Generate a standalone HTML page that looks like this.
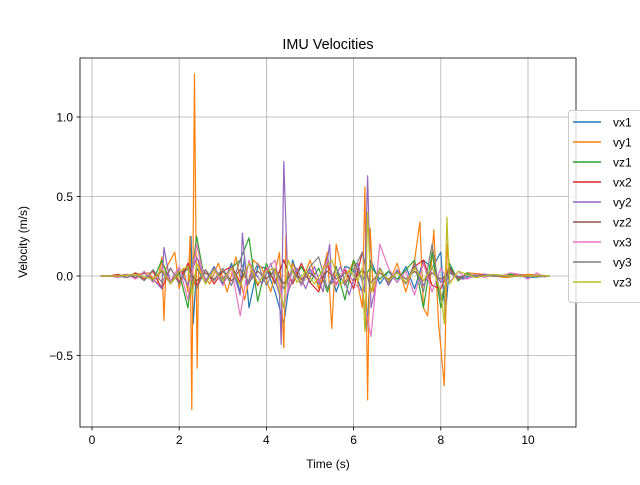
<!DOCTYPE html>
<html><head><meta charset="utf-8"><style>
body{margin:0;background:#fff;font-family:"Liberation Sans",sans-serif}
svg text{font-family:"Liberation Sans",sans-serif;fill:#000}
</style></head><body>
<svg id="chart" width="640" height="480">
<rect width="640" height="480" fill="#fff"/>
<text x="328" y="49" font-size="14.4" text-anchor="middle">IMU Velocities</text>
<g id="grid"></g><g id="series"></g>
<rect x="80" y="58" width="496" height="369" fill="none" stroke="#000" stroke-width="0.8"/>
<g id="ticks"></g>
<text x="328" y="468" font-size="12" text-anchor="middle">Time (s)</text>
<text transform="translate(27,242) rotate(-90)" font-size="12" text-anchor="middle">Velocity (m/s)</text>
<g id="legend"></g>
</svg>
<script>
const xTicks=[0,2,4,6,8,10];
const yTicks=[-0.5,0,0.5,1.0];
const yTickLabels=["\u22120.5","0.0","0.5","1.0"];
const seriesNames=["vx1","vy1","vz1","vx2","vy2","vz2","vx3","vy3","vz3"];
const colors=["#1f77b4","#ff7f0e","#2ca02c","#d62728","#9467bd","#8c564b","#e377c2","#7f7f7f","#bcbd22"];
const TS=[0.2,0.4,0.6,0.8,1.0,1.2,1.4,1.6,1.8,2.0,2.2,2.4,2.6,2.8,3.0,3.2,3.4,3.6,3.8,4.0,4.2,4.4,4.6,4.8,5.0,5.2,5.4,5.6,5.8,6.0,6.2,6.4,6.6,6.8,7.0,7.2,7.4,7.6,7.8,8.0,8.2,8.4,8.6,8.8,9.0,9.2,9.4,9.6,9.8,10.0,10.2,10.4];
const vx1T=[0.2,0.6,1.0,1.4,1.6,1.8,2.0,2.2,2.27,2.32,2.4,2.6,2.8,3.0,3.2,3.4,3.5,3.6,3.8,4.0,4.2,4.4,4.6,4.8,5.0,5.2,5.4,5.6,5.8,6.0,6.2,6.3,6.4,6.6,6.8,7.0,7.2,7.4,7.6,7.8,8.0,8.1,8.2,8.4,8.8,9.2,9.6,10.0,10.5];
const vx1V=[0,0,0.01,-0.02,0.03,-0.05,0.04,-0.06,0.25,-0.3,0.05,-0.04,0.06,-0.05,0.08,-0.1,0.12,-0.2,0.06,0.05,-0.1,-0.3,0.1,-0.06,0.04,-0.05,0.12,-0.1,0.06,0.04,-0.1,-0.35,0.1,-0.05,0.03,-0.04,0.06,-0.08,0.1,0.05,0.15,-0.25,0.06,-0.02,0.01,0,0.01,-0.01,0];
const vy1T=[0.2,0.6,1.0,1.3,1.5,1.6,1.65,1.7,1.8,1.9,2.0,2.1,2.2,2.25,2.29,2.35,2.41,2.45,2.5,2.7,2.9,3.1,3.3,3.5,3.7,3.9,4.1,4.3,4.4,4.45,4.5,4.6,4.8,5.0,5.2,5.4,5.5,5.6,5.8,6.0,6.2,6.26,6.32,6.38,6.45,6.6,6.8,7.0,7.2,7.4,7.52,7.6,7.7,7.84,7.95,8.08,8.15,8.2,8.4,8.6,9.0,9.5,10.0,10.5];
const vy1V=[0,0,0.01,0.02,-0.05,0.12,-0.28,0.05,0.1,0.15,-0.08,0.05,-0.1,0.25,-0.84,1.27,-0.58,0.1,0.02,-0.05,0.08,-0.1,0.12,-0.15,0.1,0.05,-0.1,0.15,-0.45,0.26,-0.1,0.08,-0.05,0.1,-0.08,0.15,-0.33,0.2,-0.05,0.1,-0.2,0.56,-0.78,0.3,-0.1,0.05,-0.05,0.08,-0.1,0.1,0.34,-0.2,-0.25,0.29,-0.3,-0.69,0.2,0.05,-0.03,0.02,0.01,-0.01,0.01,0];
const vz1V=[0,0,0,0.01,-0.01,0.02,-0.03,0.1,-0.05,0.02,-0.2,0.25,-0.05,0.04,-0.03,0.05,0.1,0.24,-0.16,0.08,-0.05,0.1,-0.05,0.06,-0.04,0.05,-0.1,0.06,-0.15,0.1,-0.03,0.06,-0.02,0.03,-0.02,0.04,0.1,-0.2,0.15,-0.2,0.08,-0.03,0.02,-0.01,0.01,0,0,0.01,0,0,0,0];
const vx2V=[0,0,0.01,-0.01,0.02,-0.02,0.03,-0.08,0.05,-0.04,0.08,-0.06,0.04,-0.05,0.03,0.06,-0.04,0.08,-0.06,0.05,-0.04,0.1,-0.05,0.08,-0.04,-0.1,0.07,-0.05,0.04,-0.08,0.15,-0.1,0.05,-0.04,0.03,-0.05,0.06,0.1,-0.06,-0.08,0.05,-0.02,0.01,0,0.01,0,0,0,0.01,0,0,0];
const vy2T=[0.2,0.6,1.0,1.4,1.6,1.65,1.8,2.0,2.2,2.4,2.6,2.8,3.0,3.2,3.4,3.45,3.55,3.7,3.9,4.1,4.3,4.34,4.4,4.5,4.7,4.9,5.1,5.3,5.45,5.5,5.7,5.9,6.1,6.25,6.32,6.4,6.6,6.8,7.0,7.2,7.4,7.6,7.8,8.0,8.2,8.5,9.0,9.5,10.0,10.5];
const vy2V=[0,0,0.01,-0.02,-0.08,0.18,-0.05,0.04,-0.06,0.12,-0.03,0.05,-0.02,0.06,-0.12,0.27,-0.06,0.04,-0.05,0.08,-0.12,-0.43,0.72,-0.1,0.05,-0.08,0.06,-0.1,0.2,-0.05,0.06,-0.12,0.08,-0.1,0.63,-0.2,0.05,-0.06,0.04,-0.05,0.08,-0.06,0.05,-0.04,0.03,-0.02,0.01,0,0,0];
const vz2V=[0,0,0,0.01,-0.01,0.02,-0.02,0.03,-0.03,0.02,0.04,-0.03,0.02,-0.02,0.03,-0.03,0.04,-0.04,0.03,-0.02,0.04,-0.05,0.03,-0.02,0.02,-0.03,0.03,-0.02,0.02,-0.03,0.04,-0.04,0.02,-0.02,0.02,-0.02,0.03,-0.03,0.02,-0.02,0.02,-0.01,0.01,0,0,0,0,0,0,0,0,0];
const vx3V=[0,0,-0.01,0.01,-0.02,0.03,-0.04,0.05,-0.03,0.06,-0.15,0.2,-0.05,0.04,-0.06,0.05,-0.25,0.1,-0.05,0.04,0.1,-0.2,0.05,-0.06,0.05,-0.04,0.1,-0.06,0.05,-0.04,-0.1,-0.38,0.2,0.05,-0.04,0.03,-0.12,0.08,-0.1,0.05,-0.04,0.03,-0.02,0.01,-0.01,0.01,0,0.02,0.01,-0.02,0.02,-0.01];
const vy3V=[0,0,0,-0.01,0.01,-0.03,0.04,-0.04,0.05,-0.05,0.06,-0.08,0.04,-0.03,0.05,-0.06,0.1,-0.05,0.08,-0.06,0.05,-0.08,0.04,-0.05,0.06,0.12,-0.08,0.05,-0.06,0.04,0.15,-0.1,0.05,-0.04,0.03,-0.05,0.08,-0.1,0.2,-0.15,0.04,-0.02,0.01,0,0,0,0,0,0,0,0,0];
const vz3T=[0.2,0.6,1.0,1.4,1.6,1.8,2.0,2.2,2.3,2.4,2.6,2.8,3.0,3.2,3.4,3.6,3.8,4.0,4.2,4.3,4.4,4.5,4.7,4.9,5.1,5.3,5.5,5.7,5.9,6.1,6.2,6.26,6.32,6.4,6.6,6.8,7.0,7.2,7.4,7.6,7.8,8.0,8.08,8.14,8.2,8.4,8.8,9.2,9.6,10.0,10.5];
const vz3V=[0,0,0.01,-0.02,0.04,-0.05,0.03,0.06,-0.12,0.08,-0.05,0.04,-0.03,0.05,-0.06,0.08,-0.05,0.03,0.05,-0.1,-0.2,0.1,-0.04,0.03,-0.05,0.04,0.1,-0.06,0.04,-0.03,0.05,-0.35,0.4,-0.1,0.04,-0.03,0.02,-0.04,0.05,-0.03,0.06,-0.1,-0.3,0.37,-0.05,0.03,-0.01,0.01,0,0,0];
const seriesT=[vx1T,vy1T,TS,TS,vy2T,TS,TS,TS,vz3T];
const seriesV=[vx1V,vy1V,vz1V,vx2V,vy2V,vz2V,vx3V,vy3V,vz3V];
const NS="http://www.w3.org/2000/svg";
const X0=80,X1=576,Y0=58,Y1=427;
function xs(t){return 92+(t-0)*(528-92)/10;}
function ys(v){return 276-v*(276-117);}
function mk(tag,attrs,parent){const e=document.createElementNS(NS,tag);for(const k in attrs)e.setAttribute(k,attrs[k]);parent.appendChild(e);return e;}
const grid=document.getElementById('grid'),ticks=document.getElementById('ticks');
xTicks.forEach(t=>{const x=xs(t);
 const g=mk('line',{x1:x,x2:x,y1:Y0,y2:Y1,stroke:'#b0b0b0','stroke-width':0.8},grid);
 
 
 const tk=mk('line',{x1:x,x2:x,y1:Y1,y2:Y1+3.5,stroke:'#000','stroke-width':0.8},ticks);
 
 
 const tx=mk('text',{x:x,y:Y1+17,'font-size':12,'text-anchor':'middle'},ticks);tx.textContent=String(t);
 
 
});
yTicks.forEach((v,i)=>{const y=ys(v);
 const g=mk('line',{x1:X0,x2:X1,y1:y,y2:y,stroke:'#b0b0b0','stroke-width':0.8},grid);
 
 
 const tk=mk('line',{x1:X0-3.5,x2:X0,y1:y,y2:y,stroke:'#000','stroke-width':0.8},ticks);
 
 
 const tx=mk('text',{x:X0-7,y:y+4.5,'font-size':12,'text-anchor':'end'},ticks);tx.textContent=yTickLabels[i];
 
 
});
const sg=document.getElementById('series');
seriesNames.forEach((n,i)=>{const T=seriesT[i],V=seriesV[i],m=Math.min(T.length,V.length);
 let d='';for(let k=0;k<m;k++)d+=(k?'L':'M')+xs(T[k]).toFixed(1)+','+ys(V[k]).toFixed(1);
 const p=mk('path',{d:d,fill:'none',stroke:colors[i],'stroke-width':1.2,'stroke-linejoin':'round'},sg);
 
 
});
const lg=document.getElementById('legend');
const box=mk('rect',{x:568.5,y:110.5,width:80,height:192,rx:3,fill:'#fff','fill-opacity':0.8,stroke:'#ccc','stroke-width':1},lg);


seriesNames.forEach((n,i)=>{const y=122+i*20;
 const l=mk('line',{x1:573,x2:601,y1:y,y2:y,stroke:colors[i],'stroke-width':1.5},lg);
 
 
 const t=mk('text',{x:613,y:y+4.5,'font-size':12},lg);t.textContent=n;
 
 
});
</script>
</body></html>
